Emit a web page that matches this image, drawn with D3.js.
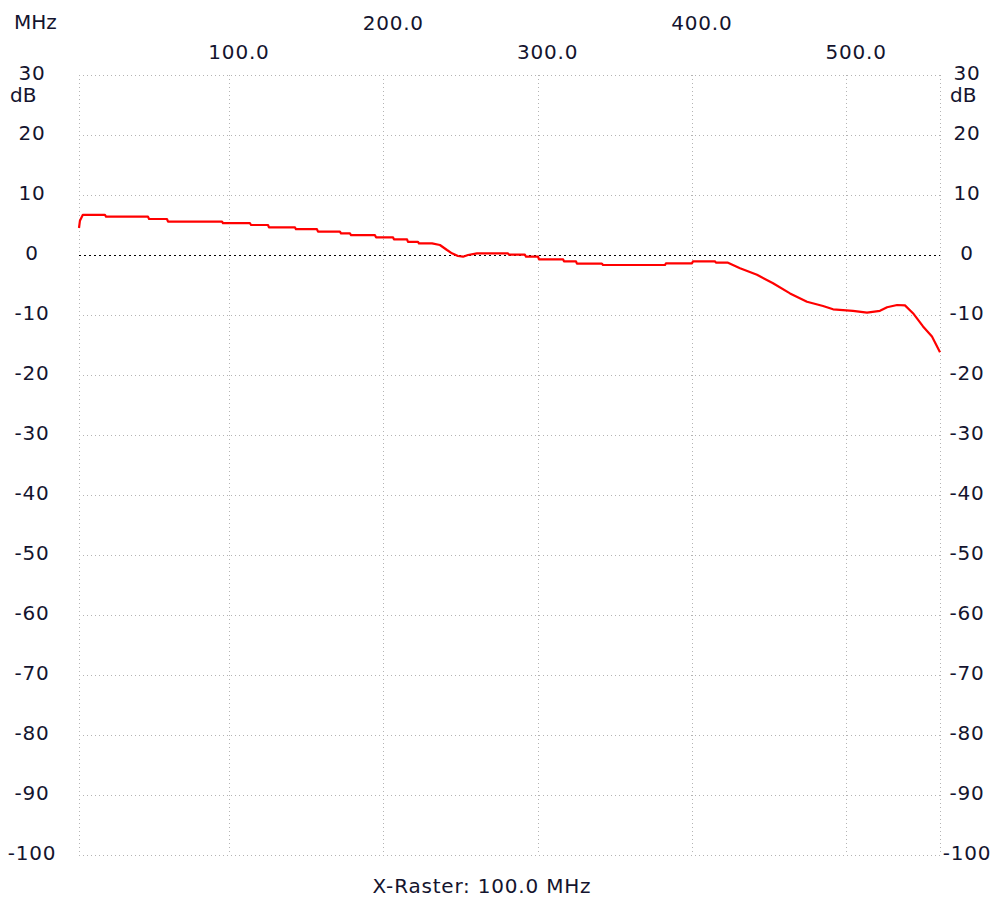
<!DOCTYPE html>
<html>
<head>
<meta charset="utf-8">
<script src="https://cdn.jsdelivr.net/npm/d3@7"></script>
<style>
  html, body { margin: 0; padding: 0; background: #fff; }
  svg { display: block; }
  text { font-family: "DejaVu Sans", Verdana, sans-serif; font-size: 20px; fill: #14142e; }
  text.num { letter-spacing: 0.8px; }
</style>
</head>
<body>
<svg id="chart" width="997" height="902"></svg>
<script>
// ---- data ----
const freqMHz = [2.8, 3.4, 5.3, 19.6, 20.3, 47.5, 48.2, 59.8, 60.5, 95.5, 96.1, 113.6, 114.3, 125.3, 125.9,
  142.8, 143.4, 157.0, 157.7, 171.9, 172.6, 178.4, 179.1, 194.6, 195.3, 206.3, 206.9, 215.4, 216.0, 222.5,
  223.1, 231.6, 236.7, 241.3, 244.5, 248.4, 251.7, 254.9, 260.7, 280.8, 281.5, 291.8, 292.5, 300.3, 300.9,
  316.5, 317.1, 324.9, 325.5, 341.7, 342.4, 382.6, 383.2, 400.1, 400.7, 414.9, 415.6, 423.4, 431.2, 442.2,
  452.6, 463.6, 474.6, 485.0, 491.5, 504.4, 513.5, 521.9, 526.5, 533.0, 538.1, 543.3, 549.8, 555.6, 560.8];
const gainDB = [4.5, 5.7, 6.7, 6.7, 6.4, 6.4, 6.0, 6.0, 5.55, 5.55, 5.3, 5.3, 5.0, 5.0, 4.6,
  4.6, 4.3, 4.3, 3.9, 3.9, 3.6, 3.6, 3.3, 3.3, 2.95, 2.95, 2.6, 2.6, 2.2, 2.2,
  1.95, 1.95, 1.67, 0.83, 0.28, -0.17, -0.28, 0, 0.28, 0.28, 0.05, 0.05, -0.28, -0.28, -0.72,
  -0.72, -1.05, -1.05, -1.44, -1.44, -1.67, -1.67, -1.39, -1.39, -1.05, -1.05, -1.28, -1.28, -2.2, -3.3,
  -4.7, -6.4, -7.8, -8.5, -9.05, -9.3, -9.6, -9.3, -8.7, -8.33, -8.4, -9.7, -11.9, -13.6, -16.2];
const xTicksUpper = [200, 400];
const xTicksLower = [100, 300, 500];
const xTickLabel = v => v.toFixed(1);
const yTicks = [30, 20, 10, 0, -10, -20, -30, -40, -50, -60, -70, -80, -90, -100];
const xUnit = "MHz";
const yUnit = "dB";
const footer = "X-Raster: 100.0 MHz";
const freqRange = [2.8, 560.8];
const dbRange = [-100, 30];

// ---- layout ----
const svg = d3.select("#chart");
const L = 79, R = 940, T = 75, B = 855;
const x = d3.scaleLinear().domain(freqRange).range([L, R]);
const y = d3.scaleLinear().domain(dbRange).range([B, T]);

const grid = svg.append("g").attr("shape-rendering", "crispEdges");
// horizontal grid
grid.selectAll("line.h").data(yTicks.filter(d => d !== 0)).enter().append("line")
  .attr("x1", L).attr("x2", R)
  .attr("y1", d => Math.round(y(d)) + 0.5).attr("y2", d => Math.round(y(d)) + 0.5)
  .attr("stroke", "#b4b4b4").attr("stroke-width", 1).attr("stroke-dasharray", "1,3");
// vertical grid (edges + raster)
const vLines = [freqRange[0]].concat(xTicksLower, xTicksUpper, [freqRange[1]]);
grid.selectAll("line.v").data(vLines).enter().append("line")
  .attr("y1", T).attr("y2", B)
  .attr("x1", d => Math.round(x(d)) + 0.5).attr("x2", d => Math.round(x(d)) + 0.5)
  .attr("stroke", "#b4b4b4").attr("stroke-width", 1).attr("stroke-dasharray", "1,3");
// zero line
grid.append("line")
  .attr("x1", L).attr("x2", R)
  .attr("y1", Math.round(y(0)) + 0.5).attr("y2", Math.round(y(0)) + 0.5)
  .attr("stroke", "#000").attr("stroke-width", 1.6).attr("stroke-dasharray", "2,3");

// y labels
const lab = svg.append("g");
lab.selectAll("text.yl").data(yTicks).enter().append("text").attr("class", "num")
  .attr("x", 32).attr("y", d => y(d) + 5).attr("text-anchor", "middle").text(d => d);
lab.selectAll("text.yr").data(yTicks).enter().append("text").attr("class", "num")
  .attr("x", 967).attr("y", d => y(d) + 5).attr("text-anchor", "middle").text(d => d);
lab.append("text").attr("x", 10).attr("y", 102).text(yUnit);
lab.append("text").attr("x", 950).attr("y", 102).text(yUnit);

// x labels
lab.append("text").attr("x", 14).attr("y", 29).text(xUnit);
lab.selectAll("text.xu").data(xTicksUpper).enter().append("text").attr("class", "num")
  .attr("x", d => x(d) + 10).attr("y", 30).attr("text-anchor", "middle").text(xTickLabel);
lab.selectAll("text.xl").data(xTicksLower).enter().append("text").attr("class", "num")
  .attr("x", d => x(d) + 10).attr("y", 59).attr("text-anchor", "middle").text(xTickLabel);
lab.append("text").attr("class", "num").attr("x", 482).attr("y", 893)
  .attr("text-anchor", "middle").text(footer);

// curve
const pts = freqMHz.map((f, i) => [f, gainDB[i]]);
svg.append("path").datum(pts)
  .attr("fill", "none").attr("stroke", "#ff0000").attr("stroke-width", 2.2)
  .attr("stroke-linejoin", "round")
  .attr("d", d3.line().x(d => x(d[0])).y(d => y(d[1])));
</script>
</body>
</html>
